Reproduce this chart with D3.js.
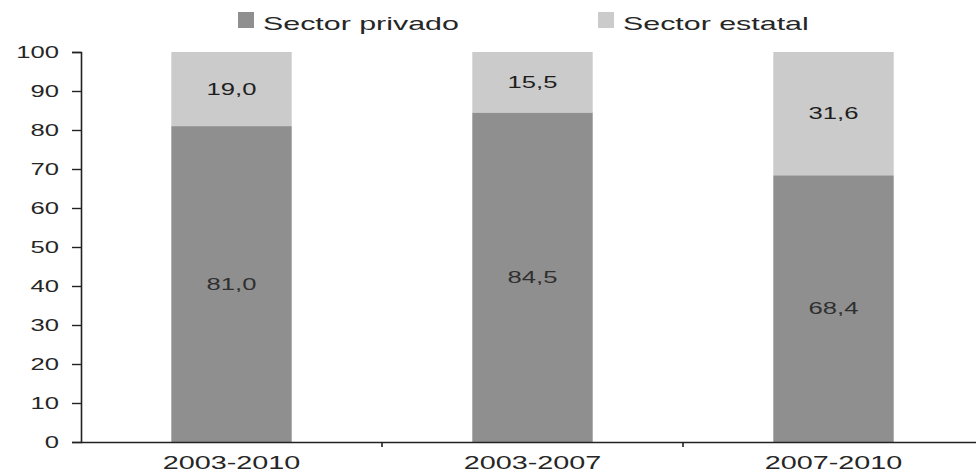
<!DOCTYPE html>
<html>
<head>
<meta charset="utf-8">
<script src="https://cdn.jsdelivr.net/npm/d3@7"></script>
<style>
  html, body { margin: 0; padding: 0; background: #fff; }
  svg { display: block; }
  text { font-family: "Liberation Sans", Arial, sans-serif; fill: #262626; }
</style>
</head>
<body>
<svg id="chart" width="976" height="472"></svg>
<script>
const categories = ["2003-2010", "2003-2007", "2007-2010"];
const seriesNames = ["Sector privado", "Sector estatal"];
const privado = [81.0, 84.5, 68.4];
const estatal = [19.0, 15.5, 31.6];
const yTicks = [0, 10, 20, 30, 40, 50, 60, 70, 80, 90, 100];
const colors = ["#8f8f8f", "#cbcbcb"];

const svg = d3.select("#chart");
const stretch = 1.6;
const margin = { left: 81, top: 52, bottom: 30 };
const H = 472;

const x = d3.scaleBand().domain(categories).range([margin.left, 984]).paddingInner(0.6).paddingOuter(0.3);
const y = d3.scaleLinear().domain([0, 100]).range([H - margin.bottom, margin.top]);

const rows = categories.map((c, i) => ({ cat: c, "Sector privado": privado[i], "Sector estatal": estatal[i] }));
const stacked = d3.stack().keys(seriesNames)(rows);
const color = d3.scaleOrdinal().domain(seriesNames).range(colors);
const fmt = d3.formatLocale({ decimal: ",", thousands: ".", grouping: [3], currency: ["", ""] }).format(".1f");

// bars
const layers = svg.append("g").selectAll("g").data(stacked).join("g").attr("fill", d => color(d.key));
layers.selectAll("rect").data(d => d).join("rect")
  .attr("x", d => x(d.data.cat))
  .attr("width", x.bandwidth())
  .attr("y", d => y(d[1]))
  .attr("height", d => y(d[0]) - y(d[1]));

// value labels
const labelG = svg.append("g");
stacked.forEach(layer => {
  layer.forEach(d => {
    const cx = x(d.data.cat) + x.bandwidth() / 2;
    const cy = (y(d[0]) + y(d[1])) / 2;
    labelG.append("text")
      .attr("transform", `translate(${cx},${cy}) scale(${stretch},1)`)
      .attr("text-anchor", "middle")
      .attr("dy", "0.36em")
      .style("font-size", "16px")
      .style("fill", layer.key === "Sector privado" ? "#2f2f2f" : "#1e1e1e")
      .text(fmt(d[1] - d[0]));
  });
});

// y axis
const yAxis = svg.append("g")
  .attr("transform", `translate(${margin.left},0)`)
  .call(d3.axisLeft(y).tickValues(yTicks).tickSize(9).tickFormat(d3.format("d")));
yAxis.select(".domain").attr("stroke", "#222").attr("stroke-width", 1.6);
yAxis.selectAll(".tick line").attr("stroke", "#222").attr("stroke-width", 1.4);
yAxis.selectAll(".tick text")
  .attr("x", null)
  .attr("transform", `translate(-22,0) scale(${stretch},1)`)
  .attr("text-anchor", "end")
  .style("font-size", "16px")
  .style("font-family", "'Liberation Sans', Arial, sans-serif")
  .style("fill", "#262626");

// x axis
const xAxis = svg.append("g")
  .attr("transform", `translate(0,${y(0)})`)
  .call(d3.axisBottom(x).tickSize(0).tickPadding(0));
xAxis.select(".domain").attr("d", `M${margin.left},0.5H976`).attr("stroke", "#222").attr("stroke-width", 1.6);
xAxis.selectAll(".tick text")
  .attr("y", null).attr("dy", null)
  .attr("transform", `translate(0,27) scale(${stretch},1)`)
  .style("font-size", "18px")
  .style("font-family", "'Liberation Sans', Arial, sans-serif")
  .style("fill", "#262626");
// category boundary ticks
const step = x.step();
const bounds = categories.slice(1).map(c => x(c) - (step - x.bandwidth()) / 2);
xAxis.selectAll("line.bound").data(bounds).join("line")
  .attr("class", "bound")
  .attr("x1", d => d).attr("x2", d => d)
  .attr("y1", 0).attr("y2", 5)
  .attr("stroke", "#222").attr("stroke-width", 1.6);

// legend
const legendX = [238, 598];
const lg = svg.append("g").selectAll("g").data(seriesNames).join("g")
  .attr("transform", (d, i) => `translate(${legendX[i]},12)`);
lg.append("rect").attr("width", 16).attr("height", 16).attr("fill", d => color(d));
lg.append("text")
  .attr("transform", `translate(25,18) scale(${stretch},1)`)
  .style("font-size", "19px")
  .text(d => d);
</script>
</body>
</html>
